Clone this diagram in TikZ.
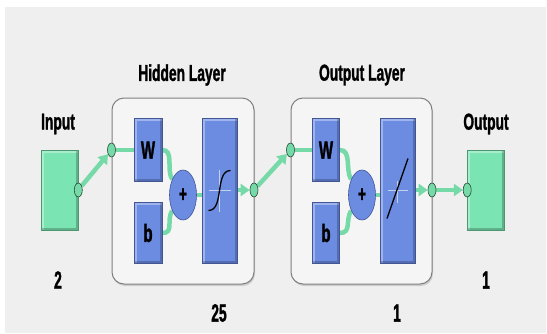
\documentclass[tikz,border=0pt]{standalone}
\usepackage{fontspec}
\newfontfamily\lblfont{Liberation Sans Bold}[FakeStretch=0.6,FakeBold=1.2]
\newfontfamily\numfont{Liberation Sans Bold}[FakeStretch=0.55,FakeBold=1.2]
\usetikzlibrary{arrows.meta,calc,shadows,shapes.geometric}
\pgfdeclarelayer{back}
\pgfdeclarelayer{wires}
\pgfsetlayers{back,wires,main}

\definecolor{bgGrey}{RGB}{239,239,239}
\definecolor{layerFill}{RGB}{245,245,245}
\definecolor{layerLine}{RGB}{128,128,128}
\definecolor{blockBlue}{RGB}{108,140,226}
\definecolor{blockEdge}{RGB}{66,86,150}
\definecolor{ioGreen}{RGB}{122,228,178}
\definecolor{ioEdge}{RGB}{76,150,112}
\definecolor{wireGreen}{RGB}{118,218,168}
\definecolor{dotEdge}{RGB}{40,72,52}
\definecolor{axisGrey}{RGB}{196,208,238}

\tikzset{
  bevel/.style={path picture={
    \draw[white,opacity=0.35,line width=5pt] (path picture bounding box.south west) -- (path picture bounding box.north west) -- (path picture bounding box.north east);
    \draw[black,opacity=0.22,line width=5pt] (path picture bounding box.north east) -- (path picture bounding box.south east) -- (path picture bounding box.south west);
  }},
  layerbox/.style={draw=layerLine, line width=1pt, fill=layerFill, rounded corners=12pt,
    minimum width=142pt, minimum height=186pt, inner sep=0pt,
    drop shadow={opacity=0.3, shadow xshift=1pt, shadow yshift=-2pt}},
  blockbox/.style={draw=blockEdge, line width=0.6pt, fill=blockBlue, inner sep=0pt, bevel,
    font=\lblfont\fontsize{25}{25}\selectfont},
  iobox/.style={draw=ioEdge, line width=0.6pt, fill=ioGreen, inner sep=0pt, bevel,
    minimum width=37pt, minimum height=80pt},
  sumnode/.style={ellipse, draw=blockEdge, line width=0.6pt, fill=blockBlue, inner sep=0pt,
    minimum width=27pt, minimum height=50pt, font=\lblfont\fontsize{23}{23}\selectfont},
  dot/.style={ellipse, draw=dotEdge, line width=0.6pt, fill=wireGreen, inner sep=0pt,
    minimum width=8pt, minimum height=14pt},
  wire/.style={draw=wireGreen, line width=4.5pt},
  arrowed/.style={-{Triangle[length=9pt,width=12pt]}},
  axis/.style={axisGrey, line width=0.8pt},
  lbl/.style={font=\lblfont\fontsize{23}{23}\selectfont, inner sep=0pt},
  num/.style={font=\numfont\fontsize{25}{25}\selectfont, inner sep=0pt}
}

\begin{document}
\begin{tikzpicture}[x=1pt,y=-1pt]
\useasboundingbox (0,0) rectangle (547,333);

% frames
\begin{pgfonlayer}{back}
\fill[bgGrey] (5,7) rectangle (546,333);
\node[layerbox] (hLayer) at (183,191) {};
\node[layerbox, minimum width=141pt] (oLayer) at (361.5,191) {};
\end{pgfonlayer}

% input and output
\node[iobox] (inBox) at (59.5,190) {};
\node[iobox] (outBox) at (486,190) {};
\node[dot] (inDot) at (inBox.east) {};
\node[dot] (outDot) at (outBox.west) {};

% hidden layer
\node[blockbox, minimum width=28pt, minimum height=63pt] (hW) at (148,150) {W};
\node[blockbox, minimum width=28pt, minimum height=61pt] (hb) at (148,233) {b};
\node[sumnode] (hSum) at (183,195) {+};
\node[blockbox, minimum width=35pt, minimum height=145pt] (hTf) at (219.5,190.5) {};
\node[dot] (hDot) at (hLayer.west |- hW) {};
\node[dot] (hOut) at (254,190) {};
\draw[axis] ($(hTf.center)+(-11,0)$) -- ($(hTf.center)+(11,0)$);
\draw[axis] ($(hTf.center)+(0,-21)$) -- ($(hTf.center)+(0,21)$);
\draw[line width=1.3pt] ($(hTf.center)+(-11,20)$) .. controls +(16,0) and +(-16,0) .. ($(hTf.center)+(11,-20)$);

% output layer
\node[blockbox, minimum width=27pt, minimum height=63pt] (oW) at (326,150) {W};
\node[blockbox, minimum width=27pt, minimum height=61pt] (ob) at (326,233) {b};
\node[sumnode] (oSum) at (362,195) {+};
\node[blockbox, minimum width=35pt, minimum height=145pt] (oTf) at (397.5,190.5) {};
\node[dot] (oDot) at (oLayer.west |- oW) {};
\node[dot] (oOut) at (432,190) {};
\draw[axis] ($(oTf.center)+(-10,0)$) -- ($(oTf.center)+(10,0)$);
\draw[axis] ($(oTf.center)+(0,-10)$) -- ($(oTf.center)+(0,12)$);
\draw[line width=1.3pt] ($(oTf.center)+(-10.5,28)$) -- ($(oTf.center)+(10.5,-32)$);

% wires
\begin{pgfonlayer}{wires}
\draw[wire, arrowed] (inDot) -- (hDot);
\draw[wire] (hDot) -- (hW);
\draw[wire] (hW.east) .. controls +(12,0) and +(-6,-10) .. (hSum.125);
\draw[wire] (hb.east) .. controls +(12,0) and +(-6,10) .. (hSum.235);
\draw[wire] (hSum.east) -- (hSum.east -| hTf.west);
\draw[wire, arrowed] (hTf.east |- hOut) -- (hOut);
\draw[wire, arrowed] (hOut) -- (oDot);
\draw[wire] (oDot) -- (oW);
\draw[wire] (oW.east) .. controls +(12,0) and +(-6,-10) .. (oSum.125);
\draw[wire] (ob.east) .. controls +(12,0) and +(-6,10) .. (oSum.235);
\draw[wire] (oSum.east) -- (oSum.east -| oTf.west);
\draw[wire, arrowed] (oTf.east |- oOut) -- (oOut);
\draw[wire, arrowed] (oOut) -- (outDot);
\end{pgfonlayer}

% labels
\node[lbl] (inLbl) at (58,124) {Input};
\node[lbl] (hLbl) at (182,75) {Hidden Layer};
\node[lbl] (oLbl) at (362,75) {Output Layer};
\node[lbl] (outLbl) at (486,124) {Output};
\node[num] (inNum) at (58,280) {2};
\node[num] (outNum) at (486,280) {1};
\node[num] (hNum) at (219,313) {25};
\node[num] (oNum) at (397,313) {1};
\end{tikzpicture}
\end{document}
